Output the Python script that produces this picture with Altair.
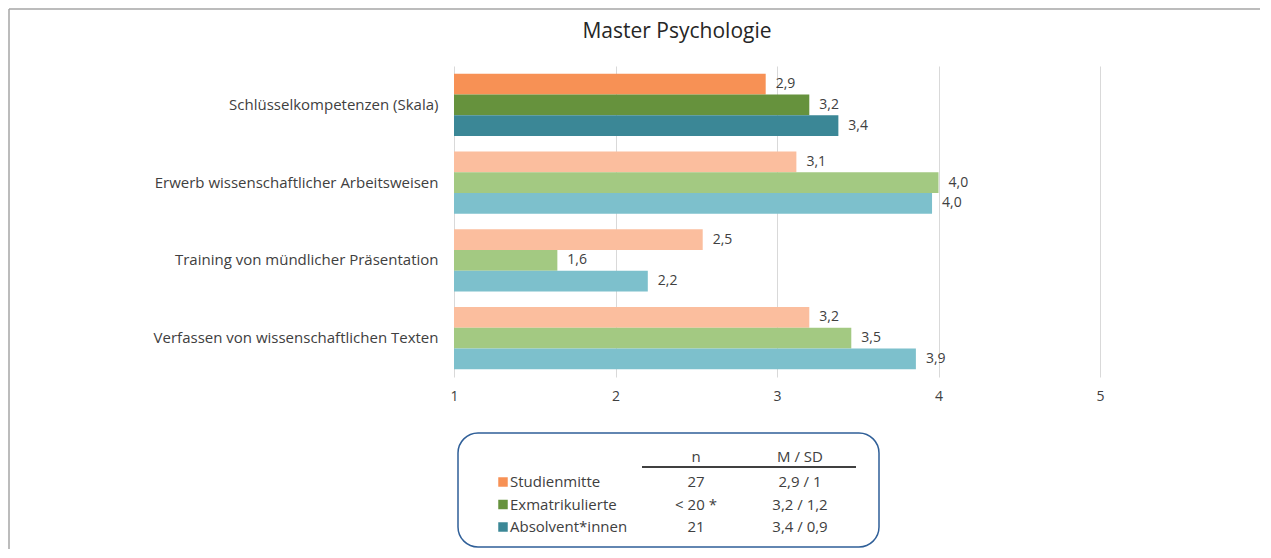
import altair as alt
import pandas as pd

# ---------------- data ----------------
title_text = "Master Psychologie"
categories = [
    "Schlüsselkompetenzen (Skala)",
    "Erwerb wissenschaftlicher Arbeitsweisen",
    "Training von mündlicher Präsentation",
    "Verfassen von wissenschaftlichen Texten",
]
series = ["Studienmitte", "Exmatrikulierte", "Absolvent*innen"]
studienmitte = [2.93, 3.12, 2.54, 3.20]
exmatrikulierte = [3.20, 4.00, 1.64, 3.46]
absolventen = [3.38, 3.96, 2.20, 3.86]
x_ticks = [1, 2, 3, 4, 5]

legend_header = ["n", "M / SD"]
legend_n = ["27", "< 20 *", "21"]
legend_msd = ["2,9 / 1", "3,2 / 1,2", "3,4 / 0,9"]

# ---------------- style ----------------
dark = ["#F79155", "#66923D", "#3B8796"]
light = ["#FBBE9E", "#A3C982", "#7DC0CC"]
FONT = "Open Sans"
TXT = "#404040"
W, H = 646, 311
PAD = {"left": 446, "top": 58, "right": 160, "bottom": 172}

rows = []
for ci, cat in enumerate(categories):
    for s, vals in zip(series, [studienmitte, exmatrikulierte, absolventen]):
        rows.append({"cat": cat, "series": s, "value": vals[ci],
                     "key": s + (" d" if ci == 0 else " l")})
df = pd.DataFrame(rows)
color_domain = [s + " d" for s in series] + [s + " l" for s in series]
color_range = dark + light

df_leg = pd.DataFrame({"group": series, "n": legend_n, "msd": legend_msd})
one = pd.DataFrame({"t": [title_text]})

x_scale = alt.Scale(domain=[1, 5], zero=False, nice=False)
y_scale = alt.Scale(paddingInner=0.2, paddingOuter=0.1)
x_axis = alt.Axis(values=x_ticks, title=None, grid=True, gridColor="#D9D9D9",
                  domain=False, ticks=False, labelPadding=12, labelFontSize=14,
                  labelColor=TXT, labelFont=FONT, format="d", labelFlush=False)
y_axis = alt.Axis(title=None, labelFontSize=15, labelColor=TXT, labelPadding=16,
                  domain=False, ticks=False, grid=False, labelLimit=500, labelFont=FONT)

bars = alt.Chart(df).mark_bar().encode(
    x=alt.X("value:Q", scale=x_scale, axis=x_axis),
    x2=alt.datum(1),
    y=alt.Y("cat:N", sort=categories, scale=y_scale, axis=y_axis),
    yOffset=alt.YOffset("series:N", sort=series),
    color=alt.Color("key:N", scale=alt.Scale(domain=color_domain, range=color_range), legend=None),
)

labels = alt.Chart(df).transform_calculate(
    label="replace(format(datum.value, '.1f'), '.', ',')"
).mark_text(align="left", baseline="middle", dx=10, fontSize=14, color=TXT, font=FONT).encode(
    x=alt.X("value:Q", scale=x_scale, axis=x_axis),
    y=alt.Y("cat:N", sort=categories, scale=y_scale, axis=y_axis),
    yOffset=alt.YOffset("series:N", sort=series),
    text="label:N",
)

main = alt.layer(bars, labels)

title = alt.Chart(one).mark_text(fontSize=21, font=FONT, color="#262626",
                                  align="center", baseline="middle").encode(
    text="t:N", x=alt.value(223), y=alt.value(-34))

border_top = alt.Chart(one).mark_rule(color="#A6A6A6", strokeWidth=1.5).encode(
    x=alt.value(-445), x2=alt.value(W + PAD["right"]), y=alt.value(-57))
border_left = alt.Chart(one).mark_rule(color="#A6A6A6", strokeWidth=1.5).encode(
    x=alt.value(-445), y=alt.value(-57), y2=alt.value(H + PAD["bottom"]))

box = alt.Chart(one).mark_rect(cornerRadius=20, fill="white", fillOpacity=0,
                               stroke="#2F5F98", strokeWidth=1.5).encode(
    x=alt.value(4), x2=alt.value(425), y=alt.value(367), y2=alt.value(481))

hdr_n = alt.Chart(pd.DataFrame({"h": [legend_header[0]]})).mark_text(
    fontSize=15, font=FONT, color=TXT, align="center", baseline="middle").encode(
    text="h:N", x=alt.value(242), y=alt.value(391))
hdr_m = alt.Chart(pd.DataFrame({"h": [legend_header[1]]})).mark_text(
    fontSize=15, font=FONT, color=TXT, align="center", baseline="middle").encode(
    text="h:N", x=alt.value(346), y=alt.value(391))
hdr_line = alt.Chart(one).mark_rule(color="black", strokeWidth=1.5).encode(
    x=alt.value(188), x2=alt.value(402), y=alt.value(401))

leg_y = alt.Y("group:N", sort=series,
              scale=alt.Scale(type="point", range=[416, 461], padding=0), axis=None)
leg_base = alt.Chart(df_leg)
squares = leg_base.mark_square(size=90, opacity=1).encode(
    x=alt.value(49), y=leg_y,
    color=alt.Color("group:N", scale=alt.Scale(domain=series, range=dark), legend=None))
leg_lbl = leg_base.mark_text(fontSize=15, font=FONT, color=TXT, align="left",
                             baseline="middle").encode(x=alt.value(56), y=leg_y, text="group:N")
leg_n = leg_base.mark_text(fontSize=15, font=FONT, color=TXT, align="center",
                           baseline="middle").encode(x=alt.value(242), y=leg_y, text="n:N")
leg_m = leg_base.mark_text(fontSize=15, font=FONT, color=TXT, align="center",
                           baseline="middle").encode(x=alt.value(346), y=leg_y, text="msd:N")

chart = alt.layer(
    border_top, border_left, title, main, box, hdr_n, hdr_m, hdr_line,
    squares, leg_lbl, leg_n, leg_m
).resolve_scale(y="independent", color="independent").properties(
    width=W, height=H, padding=PAD, background="white",
    autosize=alt.AutoSizeParams(type="none")
).configure_view(stroke="transparent", strokeWidth=0)

chart.save("out.html", embed_options={"renderer": "svg", "actions": False})
